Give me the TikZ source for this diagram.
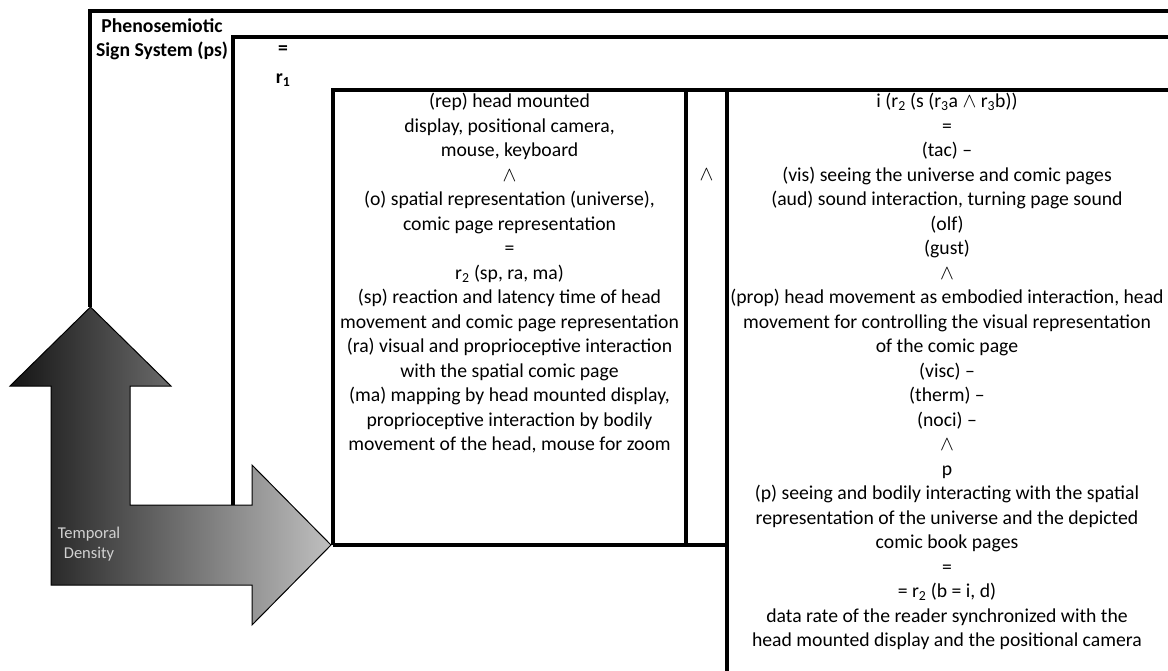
\documentclass[tikz,border=0pt]{standalone}
\usepackage{fontspec}
\setmainfont{Carlito}
\usetikzlibrary{calc}

\tikzset{
  frame/.style={line width=3.2pt},
  txt/.style={align=center, font=\fontsize{19.7}{24.5}\selectfont, inner sep=0pt},
  boldtxt/.style={txt, font=\fontsize{19.7}{24.5}\selectfont\bfseries},
  timelbl/.style={align=center, font=\fontsize{16.5}{20}\selectfont, text=black!18, inner sep=0pt},
}
\newcommand{\andsign}{$\wedge$}

\begin{document}
\begin{tikzpicture}[x=1pt,y=-1pt]
\useasboundingbox (0,0) rectangle (1168,671);

\draw[frame] (90,307) -- (90,11) -- (1168,11);
\draw[frame] (233,505) -- (233,37) -- (1168,37);
\draw[frame] (333,545) -- (333,90) -- (1168,90);
\draw[frame] (686,90) -- (686,545);
\draw[frame] (727,90) -- (727,671);
\draw[frame] (333,545) -- (727,545);

\shade[left color=black!92, right color=black!25, draw=black, line width=1pt]
(51,585) -- (51,386) -- (10,386) -- (90.5,307) -- (171,386) -- (130,386) -- (130,505)
-- (252,505) -- (252,465) -- (331,545) -- (252,625) -- (252,585) -- cycle;

\node[boldtxt] (ps) at (162,39) {Phenosemiotic\\Sign System (ps)};
\node[boldtxt] (eqone) at (283,50) {=};
\node[boldtxt] (rone) at (283,80) {r\textsubscript{1}};

\node[timelbl] (td) at (89,544) {Temporal\\Density};

\node[txt] (rep) at (509.5,273.5) {(rep) head mounted\\
display, positional camera,\\
mouse, keyboard\\
\andsign\\
(o) spatial representation (universe),\\
comic page representation\\
=\\
r\textsubscript{2} (sp, ra, ma)\\
(sp) reaction and latency time of head\\
movement and comic page representation\\
(ra) visual and proprioceptive interaction\\
with the spatial comic page\\
(ma) mapping by head mounted display,\\
proprioceptive interaction by bodily\\
movement of the head, mouse for zoom};

\node[txt] (and) at (706.5,175) {\andsign};

\node[txt] (inter) at (947,371.5) {i (r\textsubscript{2} (s (r\textsubscript{3}a \andsign{} r\textsubscript{3}b))\\
=\\
(tac) --\\
(vis) seeing the universe and comic pages\\
(aud) sound interaction, turning page sound\\
(olf)\\
(gust)\\
\andsign\\
(prop) head movement as embodied interaction, head\\
movement for controlling the visual representation\\
of the comic page\\
(visc) --\\
(therm) --\\
(noci) --\\
\andsign\\
p\\
(p) seeing and bodily interacting with the spatial\\
representation of the universe and the depicted\\
comic book pages\\
=\\
= r\textsubscript{2} (b = i, d)\\
data rate of the reader synchronized with the\\
head mounted display and the positional camera};

\end{tikzpicture}
\end{document}
